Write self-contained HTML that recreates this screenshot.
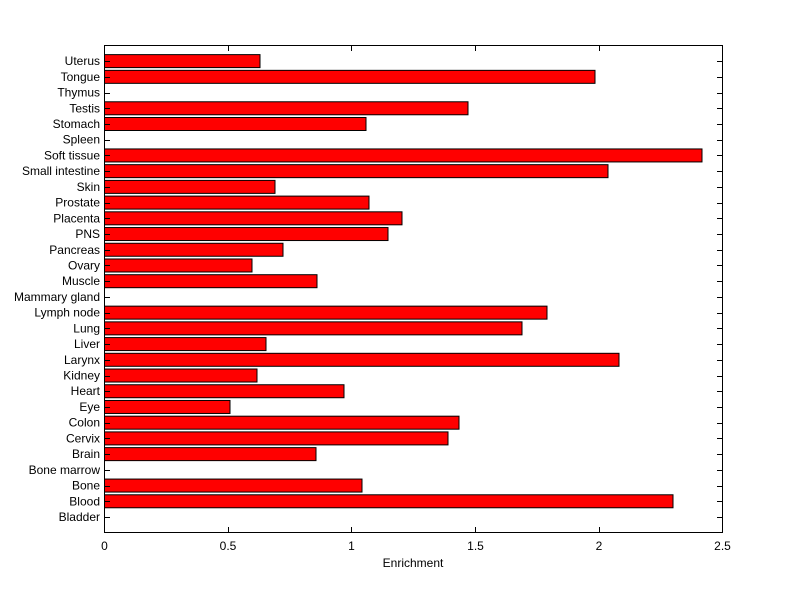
<!DOCTYPE html>
<html><head><style>body{margin:0;background:#fff}svg{display:block}text{font-family:"Liberation Sans",sans-serif;font-size:12px}</style></head>
<body>
<svg width="800" height="599" viewBox="0 0 800 599">
<rect x="0" y="0" width="800" height="599" fill="#fff"/>
<g id="bars" stroke="#000" stroke-width="1" fill="#f00"></g>
<g id="lab" text-anchor="end" fill="#000"></g>
<rect x="104.5" y="45.5" width="618" height="487" fill="none" stroke="#000"/>
<g id="xt" stroke="#000"></g>
<g font-size="12" text-anchor="middle">
<text x="104.5" y="550">0</text><text x="228" y="550">0.5</text><text x="351.5" y="550">1</text><text x="475.5" y="550">1.5</text><text x="599" y="550">2</text><text x="722.5" y="550">2.5</text>
<text x="413" y="567">Enrichment</text>
</g>
<script>
var names=["Bladder","Blood","Bone","Bone marrow","Brain","Cervix","Colon","Eye","Heart","Kidney","Larynx","Liver","Lung","Lymph node","Mammary gland","Muscle","Ovary","Pancreas","PNS","Placenta","Prostate","Skin","Small intestine","Soft tissue","Spleen","Stomach","Testis","Thymus","Tongue","Uterus"];
var ends=[0,673,362,0,316,448,459,230,344,257,619,266,522,547,0,317,252,283,388,402,369,275,608,702,0,366,468,0,595,260];
var ns="http://www.w3.org/2000/svg",b=document.getElementById("bars"),l=document.getElementById("lab"),t=document.getElementById("xt");
function el(n,a,p){var e=document.createElementNS(ns,n);for(var k in a)e.setAttribute(k,a[k]);p.appendChild(e);return e;}
for(var i=0;i<30;i++){var y=517-i*15.72;
if(ends[i]>0)el("rect",{x:104.5,y:y-6.5,width:ends[i]-104.5,height:13},b);
var tx=el("text",{x:100,y:y+4},l);tx.textContent=names[i];
el("line",{x1:104.5,y1:Math.round(y)+.5,x2:110,y2:Math.round(y)+.5},t);
el("line",{x1:717,y1:Math.round(y)+.5,x2:722.5,y2:Math.round(y)+.5},t);}
[104.5,228,351.5,475.5,599,722.5].forEach(function(x){x=Math.round(x-.5)+.5;el("line",{x1:x,y1:532.5,x2:x,y2:527},t);el("line",{x1:x,y1:45.5,x2:x,y2:51},t);});
</script>
</svg>
</body></html>
